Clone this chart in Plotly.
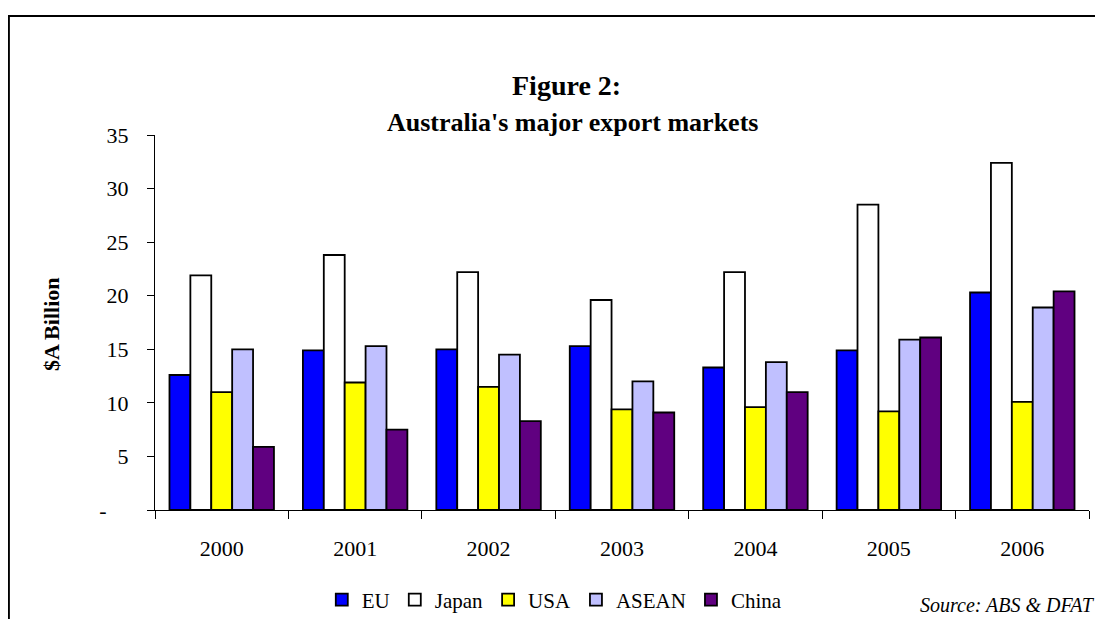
import plotly.graph_objects as go

years = ["2000", "2001", "2002", "2003", "2004", "2005", "2006"]
eu = [12.6, 14.9, 15.0, 15.3, 13.3, 14.9, 20.3]
japan = [21.9, 23.8, 22.2, 19.6, 22.2, 28.5, 32.4]
usa = [11.0, 11.9, 11.5, 9.4, 9.6, 9.2, 10.1]
asean = [15.0, 15.3, 14.5, 12.0, 13.8, 15.9, 18.9]
china = [5.9, 7.5, 8.3, 9.1, 11.0, 16.1, 20.4]

series = [
    ("EU", eu, "#0000FF"),
    ("Japan", japan, "#FFFFFF"),
    ("USA", usa, "#FFFF00"),
    ("ASEAN", asean, "#C0C0FF"),
    ("China", china, "#600080"),
]

y_ticks = [0, 5, 10, 15, 20, 25, 30, 35]
y_ticktext = ["-\u00a0\u00a0\u00a0\u00a0", "5", "10", "15", "20", "25", "30", "35"]

FONT = "Liberation Serif, Times New Roman, serif"

fig = go.Figure()
for name, vals, col in series:
    fig.add_trace(go.Bar(
        x=years, y=vals, name=name,
        marker=dict(color=col, line=dict(color="#000000", width=1.8)),
    ))

# page body has an 8px margin, so the figure is drawn 8px right/down
W, H = 1095, 611
L, R, T, B = 147, 13.5, 127, 109
pw = W - L - R
ph = H - T - B

def px_x(p):
    return (p - L) / pw

def px_y(p):
    return (H - B - p) / ph

fig.update_layout(
    width=W, height=H,
    margin=dict(l=L, r=R, t=T, b=B, autoexpand=False),
    paper_bgcolor="white", plot_bgcolor="white",
    barmode="group", bargap=0.217, bargroupgap=0,
    font=dict(family=FONT, size=21, color="#000000"),
    showlegend=True,
    legend=dict(
        orientation="h", x=px_x(547), xanchor="center",
        y=px_y(592), yanchor="middle",
        font=dict(family=FONT, size=21, color="#000000"),
        itemwidth=30, tracegroupgap=0, itemclick=False,
        bgcolor="rgba(0,0,0,0)",
    ),
    xaxis=dict(
        type="category", showline=True, linecolor="#000000", linewidth=1,
        ticks="outside", tickson="boundaries", ticklen=8, tickcolor="#000000",
        tickwidth=1, showgrid=False, ticklabelstandoff=19,
        tickfont=dict(family=FONT, size=22), automargin=False,
    ),
    yaxis=dict(
        range=[0, 35], tickvals=y_ticks, ticktext=y_ticktext,
        showline=True, linecolor="#000000", linewidth=1,
        ticks="outside", ticklen=7, tickcolor="#000000", tickwidth=1,
        showgrid=False, zeroline=False, ticklabelstandoff=14,
        tickfont=dict(family=FONT, size=22), automargin=False,
    ),
    annotations=[
        dict(text="<b>Figure 2:</b>", xref="paper", yref="paper",
             x=px_x(559), y=px_y(77), xanchor="center", yanchor="middle",
             showarrow=False, font=dict(family=FONT, size=28)),
        dict(text="<b>Australia's major export markets</b>", xref="paper", yref="paper",
             x=px_x(565), y=px_y(114), xanchor="center", yanchor="middle",
             showarrow=False, font=dict(family=FONT, size=26)),
        dict(text="<b>$A Billion</b>", xref="paper", yref="paper",
             x=px_x(43), y=px_y(316), xanchor="center", yanchor="middle",
             textangle=-90, showarrow=False, font=dict(family=FONT, size=22)),
        dict(text="<i>Source: ABS &amp; DFAT</i>", xref="paper", yref="paper",
             x=px_x(1090), y=px_y(597), xanchor="right", yanchor="middle",
             showarrow=False, font=dict(family=FONT, size=20)),
    ],
    shapes=[
        dict(type="rect", xref="paper", yref="paper",
             x0=px_x(0.8), x1=px_x(1130), y0=px_y(8), y1=px_y(640),
             line=dict(color="#000000", width=2), fillcolor="rgba(0,0,0,0)",
             layer="below"),
    ],
)

fig.write_html("out.html")
